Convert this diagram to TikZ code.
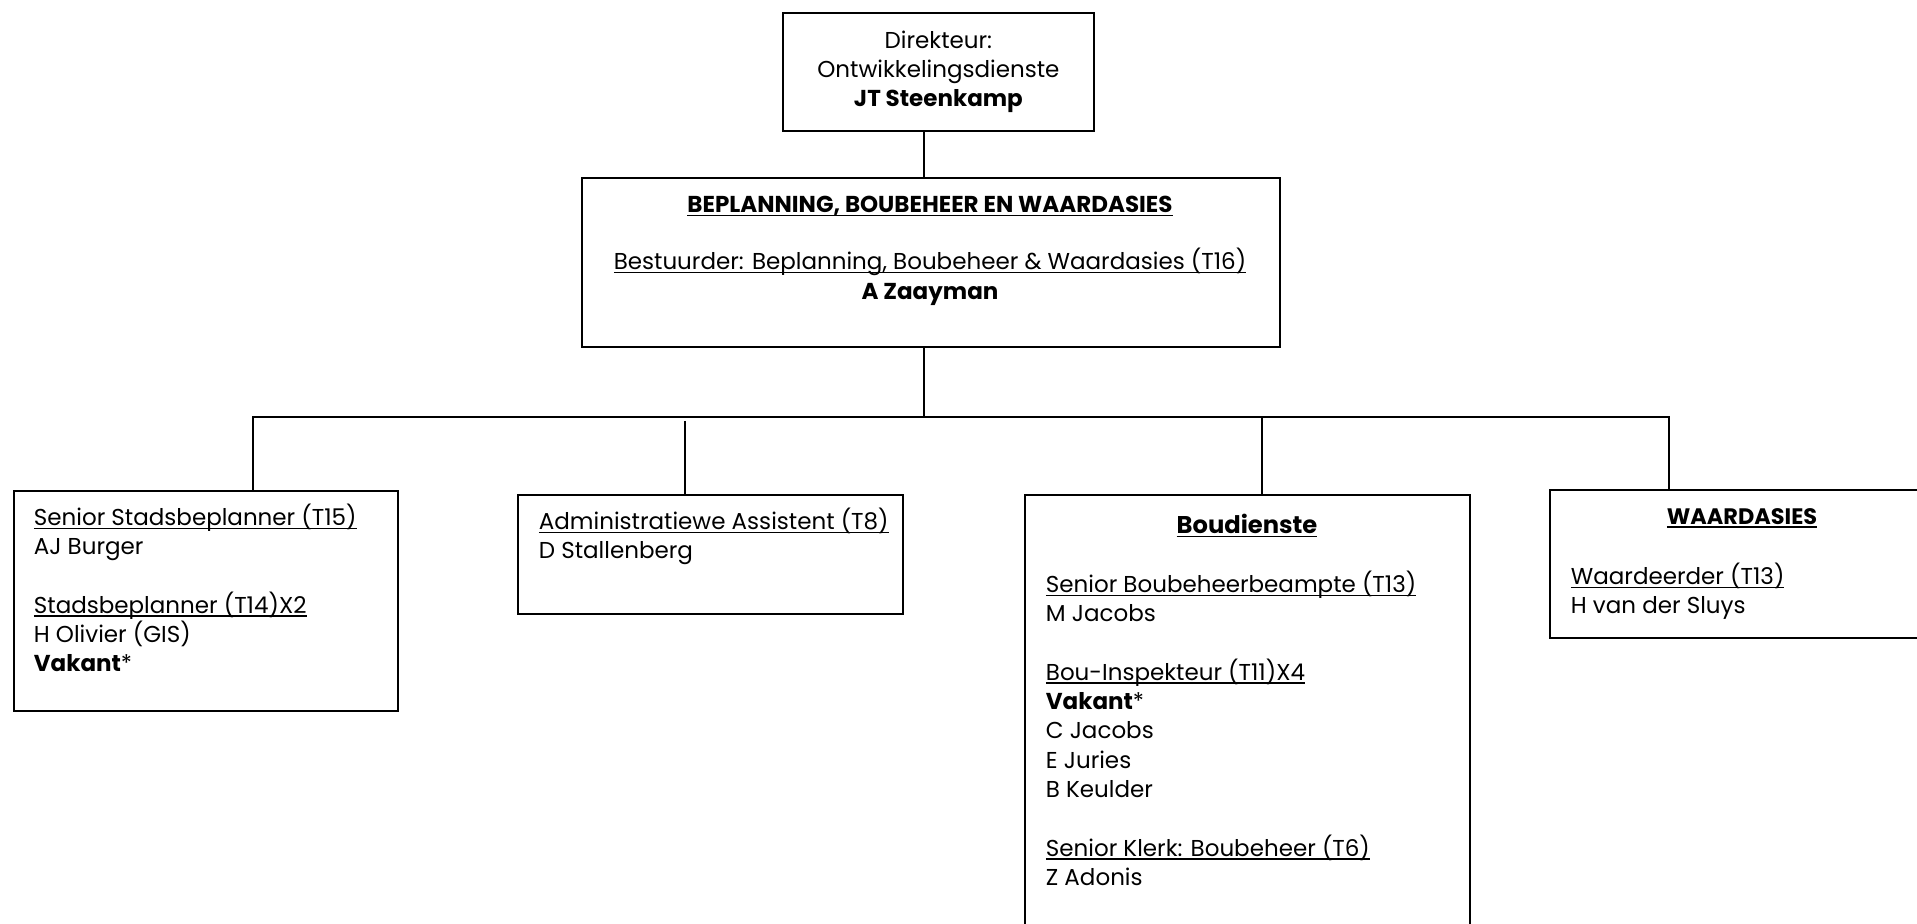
\documentclass[tikz,border=0pt]{standalone}
\usepackage{fontspec}
\setmainfont{Poppins}
\newcommand\undl[1]{\setbox0\hbox{#1}\rlap{\rule[-1.8pt]{\wd0}{0.7pt}}\box0}

\begin{document}
\begin{tikzpicture}[x=0.5pt, y=-0.5pt, line width=0.9pt,
  box/.style={draw, rectangle, inner sep=0pt, anchor=north west},
  txt/.style={align=left, inner sep=0pt, font=\fontsize{11.5}{14.65}\selectfont},
  head/.style={inner sep=0pt, font=\fontsize{11.2}{14.65}\selectfont\bfseries}]
\useasboundingbox (0,0) rectangle (1917,924);

\node[box, minimum width=155.5pt, minimum height=59pt, align=center, font=\fontsize{11.5}{14.65}\selectfont] (dir) at (782,12) {Direkteur:\\Ontwikkelingsdienste\\\textbf{JT Steenkamp}};
\node[box, minimum width=349pt, minimum height=84.5pt] (bpw) at (581,177) {};
\node[txt, align=center, anchor=north] (bpwtxt) at (930,195.5) {\undl{\textbf{BEPLANNING, BOUBEHEER EN WAARDASIES}}\\[13.9pt]\undl{Bestuurder: Beplanning, Boubeheer \& Waardasies (T16)}\\\textbf{A Zaayman}};

\node[box, minimum width=192pt, minimum height=110pt] (stad) at (13,490) {};
\node[txt, anchor=north west] (stadtxt) at (33,503) {\undl{Senior Stadsbeplanner (T15)}\\AJ Burger\\[14.65pt]\undl{Stadsbeplanner (T14)X2}\\H Olivier (GIS)\\\textbf{Vakant}*};

\node[box, minimum width=192.5pt, minimum height=59.5pt] (admin) at (517,494) {};
\node[txt, anchor=north west] (admintxt) at (538,507) {\undl{Administratiewe Assistent (T8)}\\D Stallenberg};

\node[box, minimum width=222.5pt, minimum height=228pt] (bou) at (1024,494) {};
\node[head, font=\fontsize{12.1}{16}\selectfont\bfseries] (bouhead) at (1247,525.5) {\undl{Boudienste}};
\node[txt, anchor=north west] (boutxt) at (1045,570) {\undl{Senior Boubeheerbeampte (T13)}\\M Jacobs\\[14.65pt]\undl{Bou-Inspekteur (T11)X4}\\\textbf{Vakant}*\\C Jacobs\\E Juries\\B Keulder\\[14.65pt]\undl{Senior Klerk: Boubeheer (T6)}\\Z Adonis};

\node[box, minimum width=193pt, minimum height=74pt] (waard) at (1549,489) {};
\node[head] (waardhead) at (1742,518) {\undl{WAARDASIES}};
\node[txt, anchor=north west] (waardtxt) at (1570,562) {\undl{Waardeerder (T13)}\\H van der Sluys};

\coordinate (spine) at (924,417);
\coordinate (busL) at (253,417);
\coordinate (busR) at (1669,417);
\coordinate (admtop) at (685,421);

\draw (dir.south -| spine) -- (bpw.north -| spine);
\draw (bpw.south -| spine) -- (spine);
\draw (stad.north -| busL) -- (busL) -- (busR) -- (waard.north -| busR);
\draw (admtop) -- (admin.north -| admtop);
\draw (bou.north -| 1262,0) -- (1262,417);
\end{tikzpicture}
\end{document}
